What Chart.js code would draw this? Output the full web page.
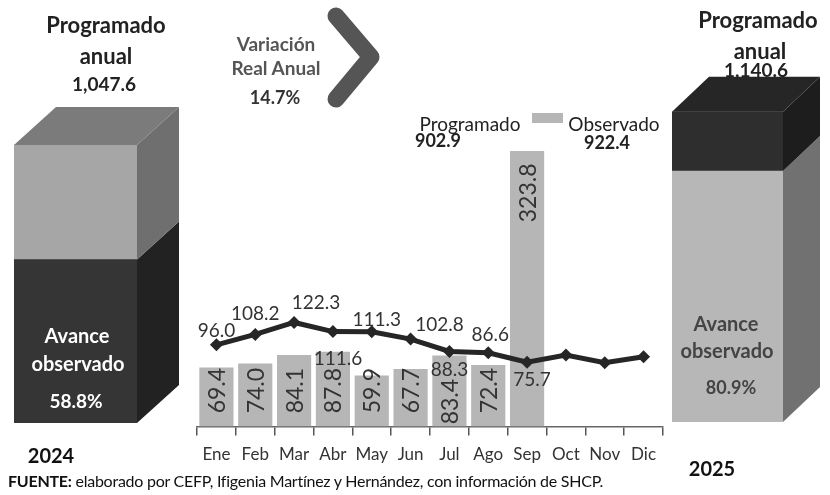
<!DOCTYPE html>
<html><head><meta charset="utf-8">
<script src="https://cdn.jsdelivr.net/npm/chart.js@4/dist/chart.umd.min.js"></script>
<style>
body{margin:0;width:830px;height:495px;background:#fff;position:relative;overflow:hidden;font-family:Lato,"Open Sans",sans-serif}
.t{position:absolute;transform:translate(-50%,-50%);white-space:nowrap;line-height:1}
canvas{position:absolute;top:0}
</style></head><body>
<canvas id="cl" width="200" height="495" style="left:0"></canvas>
<canvas id="cr" width="170" height="495" style="left:660px"></canvas>
<canvas id="cm" width="830" height="495" style="left:0"></canvas>
<svg width="830" height="495" style="position:absolute;left:0;top:0">
<polyline points="336,16 371,57 336,99" fill="none" stroke="#555" stroke-width="17" stroke-linecap="round" stroke-linejoin="round"/>
</svg>
<div id="txt"></div>
<script>
// ---- data ----
const months = ['Ene','Feb','Mar','Abr','May','Jun','Jul','Ago','Sep','Oct','Nov','Dic'];
const programado = [96.0,108.2,122.3,111.6,111.3,102.8,88.3,86.6,75.7,84.0,75.0,82.0];
const observado = [69.4,74.0,84.1,87.8,59.9,67.7,83.4,72.4,323.8,null,null,null];
const programadoLabeled = 9; // labels shown for Ene..Sep
const totalProgramado = 902.9, totalObservado = 922.4;
const year2024 = '2024', year2025 = '2025';
const anual2024 = 1047.6, avance2024 = 58.8;
const anual2025 = 1140.6, avance2025 = 80.9;
const variacion = 14.7;

// ---- label placement styles ----
const lineLabelDx = [0,0,22,5,5,29,0,2,5];
const lineLabelDy = [-14,-21,-20,27,-12,-14,18,-18,18];
const barLabelFromBase = [36,36,36,36,36,36,25,36,36];

const FONT = 'Lato, "Open Sans", sans-serif';
const fmt1 = v => v.toLocaleString('en-US',{minimumFractionDigits:1,maximumFractionDigits:1});

// ---- 3D box plugin ----
const box3d = {
  id:'box3d',
  afterDatasetsDraw(chart, args, o){
    const ctx = chart.ctx;
    const n = chart.data.datasets.length;
    for(let i=0;i<n;i++){
      const el = chart.getDatasetMeta(i).data[0];
      const p = el.getProps(['x','y','base','width'], true);
      const L = p.x - p.width/2, R = p.x + p.width/2;
      const T = Math.min(p.y,p.base), B = Math.max(p.y,p.base);
      ctx.save();
      ctx.fillStyle = o.side[i];
      ctx.beginPath();
      ctx.moveTo(R,T); ctx.lineTo(R+o.dx,T+o.dy); ctx.lineTo(R+o.dx,B+o.dy); ctx.lineTo(R,B); ctx.closePath(); ctx.fill();
      if(i===n-1){
        ctx.fillStyle = o.top;
        ctx.beginPath();
        ctx.moveTo(L,T); ctx.lineTo(L+o.dx,T+o.dy); ctx.lineTo(R+o.dx,T+o.dy); ctx.lineTo(R,T); ctx.closePath(); ctx.fill();
      }
      ctx.restore();
    }
  }
};

function boxChart(id, obsVal, restVal, colors, pad, dep){
  return new Chart(document.getElementById(id), {
    type:'bar',
    data:{labels:[''], datasets:[
      {data:[obsVal], backgroundColor:colors.front[0], borderWidth:0},
      {data:[restVal], backgroundColor:colors.front[1], borderWidth:0}
    ]},
    options:{responsive:false, animation:false, events:[],
      layout:{padding:pad},
      datasets:{bar:{categoryPercentage:1, barPercentage:1}},
      plugins:{legend:{display:false}, tooltip:{enabled:false},
        box3d:{dx:dep[0], dy:dep[1], side:colors.side, top:colors.top}},
      scales:{x:{display:false, stacked:true}, y:{display:false, stacked:true, min:0, max:1500}}
    },
    plugins:[box3d]
  });
}

const obs2024 = anual2024*avance2024/100;
boxChart('cl', obs2024, anual2024-obs2024,
  {front:['#353535','#a6a6a6'], side:['#222222','#6f6f6f'], top:'#7b7b7b'},
  {left:14,right:63,top:25,bottom:72}, [42,-38]);
boxChart('cr', totalObservado, anual2025-totalObservado,
  {front:['#b7b7b7','#2e2e2e'], side:['#717171','#1d1d1d'], top:'#262626'},
  {left:12,right:47,top:14,bottom:73}, [37,-35]);

// ---- value labels plugin for middle chart ----
const valueLabels = {
  id:'valueLabels',
  afterDatasetsDraw(chart){
    const ctx = chart.ctx;
    const bm = chart.getDatasetMeta(1);
    ctx.save();
    ctx.fillStyle = '#333';
    ctx.font = '23px ' + FONT;
    ctx.textAlign = 'center'; ctx.textBaseline = 'middle';
    bm.data.forEach((el,i)=>{
      const v = observado[i]; if(v==null) return;
      const p = el.getProps(['x','y','base'], true);
      let cy = (p.base - p.y > 150) ? p.y + 42 : p.base - barLabelFromBase[i];
      ctx.save(); ctx.translate(p.x, cy); ctx.rotate(-Math.PI/2);
      ctx.fillText(fmt1(v), 0, 1); ctx.restore();
    });
    const lm = chart.getDatasetMeta(0);
    ctx.font = '19px ' + FONT;
    lm.data.forEach((el,i)=>{
      if(i>=programadoLabeled) return;
      ctx.fillText(fmt1(programado[i]), el.x + lineLabelDx[i], el.y + lineLabelDy[i]);
    });
    ctx.restore();
  }
};

new Chart(document.getElementById('cm'), {
  data:{labels:months, datasets:[
    {type:'line', data:programado, borderColor:'#262626', borderWidth:5,
     pointStyle:'rectRot', pointRadius:6.5, pointBackgroundColor:'#262626', pointBorderWidth:0, order:0, tension:0},
    {type:'bar', data:observado, backgroundColor:'#b6b6b6', borderWidth:0,
     categoryPercentage:1, barPercentage:0.88, order:1}
  ]},
  options:{responsive:false, animation:false, events:[],
    layout:{padding:{left:197,right:167,top:86,bottom:21}},
    plugins:{legend:{display:false}, tooltip:{enabled:false}},
    scales:{
      x:{grid:{display:true, drawOnChartArea:false, drawTicks:true, tickLength:9, color:'#555', lineWidth:1.5, offset:true},
         border:{display:true, color:'#666', width:1.5},
         ticks:{color:'#333', font:{family:FONT, size:17}, padding:9, maxRotation:0, autoSkip:false}},
      y:{display:false, min:0, max:400}
    }
  },
  plugins:[valueLabels]
});

// ---- text overlays ----
const T = [
  ['Programado',106,24,'bold 22px','#222'],
  ['anual',106,55,'bold 22px','#222'],
  [fmt1(anual2024),104,83,'bold 19px','#222'],
  ['Avance',77,335,'bold 20px','#fff'],
  ['observado',78,363,'bold 20px','#fff'],
  [fmt1(avance2024)+'%',76,400,'bold 19px','#fff'],
  [year2024,51,455,'bold 20px','#111'],
  ['Programado',758,19,'bold 22px','#222'],
  ['anual',760,50,'bold 22px','#222'],
  [fmt1(anual2025),756,69,'bold 19px','#222'],
  ['Avance',726,323,'bold 20px','#444'],
  ['observado',727,350,'bold 20px','#444'],
  [fmt1(avance2025)+'%',731,387,'bold 18px','#444'],
  [year2025,712,468,'bold 20px','#111'],
  ['Variación',276,43,'bold 19px','#555'],
  ['Real Anual',276,67,'bold 19px','#555'],
  [fmt1(variacion)+'%',275,97,'bold 18px','#333'],
  ['Programado',470,123,'19px','#222'],
  [fmt1(totalProgramado),438,140,'bold 18px','#222'],
  ['Observado',614,123,'19px','#222'],
  [fmt1(totalObservado),607,142,'bold 18px','#222']
];
const box = document.getElementById('txt');
T.forEach(([s,x,y,f,c])=>{
  const d=document.createElement('div'); d.className='t';
  d.textContent=s; d.style.left=x+'px'; d.style.top=y+'px';
  d.style.font=f+' '+FONT; d.style.color=c; box.appendChild(d);
});
const lg=document.createElement('div');
lg.style.cssText='position:absolute;left:532px;top:113px;width:31px;height:10px;background:#b6b6b6';
box.appendChild(lg);
const ft=document.createElement('div');
ft.style.cssText='position:absolute;left:8px;top:471px;font:16px '+FONT+';color:#111;letter-spacing:-0.25px;white-space:nowrap';
ft.innerHTML='<b>FUENTE:</b> elaborado por CEFP, Ifigenia Martínez y Hernández, con información de SHCP.';
box.appendChild(ft);
</script>
</body></html>
